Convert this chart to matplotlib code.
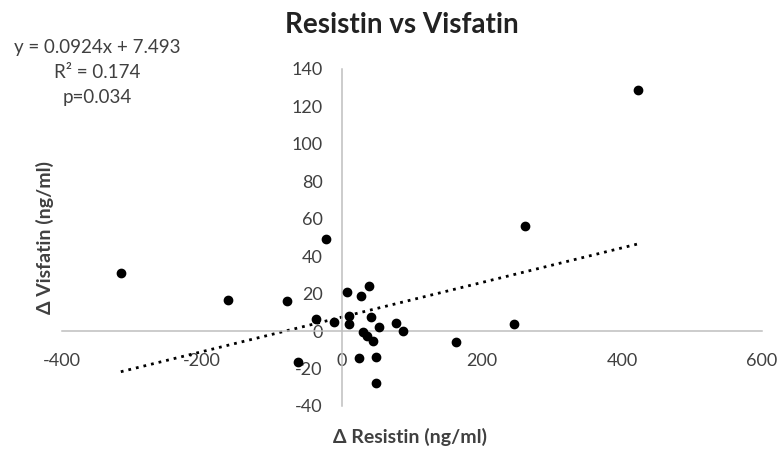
import matplotlib.pyplot as plt
import numpy as np

plt.rcParams['font.family'] = ['Lato', 'DejaVu Sans']
plt.rcParams['axes.unicode_minus'] = False

# delta resistin (x) and delta visfatin (y)
resistin = [-316, -163, -79, -37, -23, -11, -63, 7, 27, 39, 10, 10, 41, 53,
            30, 36, 44, 77, 87, 24, 49, 49, 163, 246, 261, 423]
visfatin = [31, 16.6, 16, 6.4, 49, 4.8, -16.6, 21, 19, 24, 8, 3.7, 7.5, 2,
            -0.5, -2.7, -5.3, 4.3, 0, -14.4, -13.9, -27.8, -5.7, 3.7, 56, 129]

slope, intercept = 0.0924, 7.493
x_ticks = [-400, -200, 0, 200, 400, 600]
y_ticks = [-40, -20, 0, 20, 40, 60, 80, 100, 120, 140]

fig = plt.figure(figsize=(7.81, 4.5), dpi=100)
ax = fig.add_axes([0.0794, 0.0978, 0.8963, 0.749])

# trend line over the data range
xs = np.array([min(resistin), max(resistin)])
ax.plot(xs, slope * xs + intercept, color='black', lw=2.0,
        linestyle=(0, (1, 1.8)), zorder=2)
ax.scatter(resistin, visfatin, s=36, color='black', zorder=3)

ax.set_xlim(-400, 600)
ax.set_ylim(-40, 140)
ax.set_xticks(x_ticks)
ax.set_yticks(y_ticks)

for side in ['top', 'right']:
    ax.spines[side].set_visible(False)
ax.spines['left'].set_position(('data', 0))
ax.spines['bottom'].set_position(('data', 0))
for side in ['left', 'bottom']:
    ax.spines[side].set_color('#bfbfbf')
    ax.spines[side].set_linewidth(1.1)

ax.tick_params(axis='both', length=0, labelsize=13, labelcolor='#404040')
ax.tick_params(axis='y', pad=14)
ax.tick_params(axis='x', pad=16)

fig.text(402 / 781, 1 - 25 / 450, 'Resistin vs Visfatin', ha='center', va='center',
         fontsize=20, fontweight='bold', color='#222222')
fig.text(410 / 781, 1 - 437 / 450, 'Δ Resistin (ng/ml)', ha='center', va='center',
         fontsize=14, fontweight='bold', color='#404040')
fig.text(45 / 781, 1 - 238 / 450, 'Δ Visfatin (ng/ml)', ha='center', va='center',
         rotation=90, fontsize=14, fontweight='bold', color='#404040')

eq_x = 97 / 781
fig.text(eq_x, 1 - 48 / 450, 'y = 0.0924x + 7.493', ha='center', va='center',
         fontsize=13.5, color='#404040')
fig.text(eq_x, 1 - 73 / 450, 'R² = 0.174', ha='center', va='center',
         fontsize=13.5, color='#404040')
fig.text(eq_x, 1 - 98 / 450, 'p=0.034', ha='center', va='center',
         fontsize=13.5, color='#404040')

fig.savefig('out.png', dpi=100)
